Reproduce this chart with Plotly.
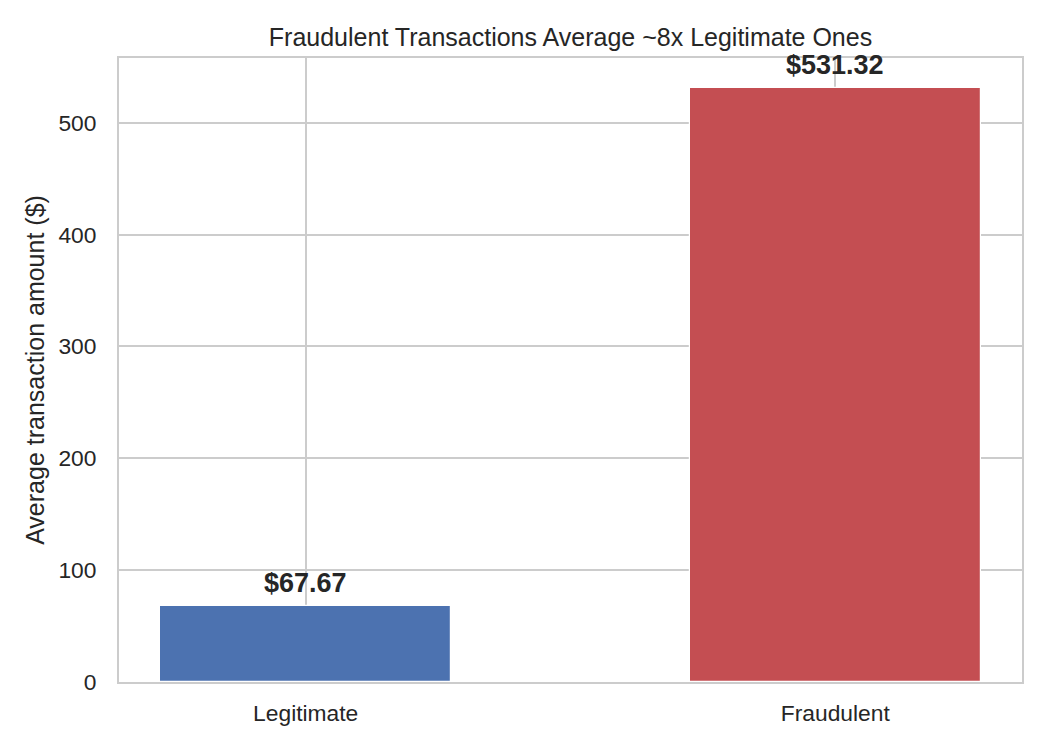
import plotly.graph_objects as go

categories = ["Legitimate", "Fraudulent"]
avg_amounts = [67.67, 531.32]
bar_colors = ["#4C72B0", "#C44E52"]
bar_labels = ["$67.67", "$531.32"]
y_ticks = [0, 100, 200, 300, 400, 500]

title_text = "Fraudulent Transactions Average ~8x Legitimate Ones"
y_title = "Average transaction amount ($)"

TXT = "#262626"
GRID = "#cccccc"
FONT = "Liberation Sans, Arial, sans-serif"

fig = go.Figure()
fig.add_trace(go.Bar(
    x=[0, 1], y=avg_amounts, width=0.55,
    marker=dict(color=bar_colors, line=dict(color="white", width=1.2)),
    hoverinfo="skip", showlegend=False,
))

for i, (v, lab) in enumerate(zip(avg_amounts, bar_labels)):
    fig.add_annotation(x=i, y=v, text="<b>" + lab + "</b>", showarrow=False,
                       xref="x", yref="y", yanchor="bottom", yshift=6,
                       font=dict(size=27, color=TXT, family=FONT))

fig.update_layout(
    width=1050, height=750,
    margin=dict(l=111, r=36, t=50, b=76),
    paper_bgcolor="white", plot_bgcolor="white",
    font=dict(family=FONT, color=TXT),
    title=dict(text=title_text, x=0.5, xref="paper", xanchor="center",
               y=1 - 29 / 750, yref="container", yanchor="middle",
               font=dict(size=25, color=TXT, family=FONT)),
    bargap=0,
)
fig.update_xaxes(
    range=[-0.3525, 1.3525], tickmode="array", tickvals=[0, 1], ticktext=categories,
    showgrid=True, gridcolor=GRID, gridwidth=1.6, zeroline=False,
    showline=True, linecolor=GRID, linewidth=2, mirror=True,
    ticks="outside", ticklen=0, ticklabelstandoff=10,
    tickfont=dict(size=22.8, color=TXT, family=FONT), layer="below traces",
)
fig.update_yaxes(
    range=[0, 531.32 * 1.05], tickmode="array", tickvals=y_ticks,
    showgrid=True, gridcolor=GRID, gridwidth=1.6, zeroline=False,
    showline=True, linecolor=GRID, linewidth=2, mirror=True,
    ticks="outside", ticklen=0, ticklabelstandoff=16,
    tickfont=dict(size=22.8, color=TXT, family=FONT),
    title=dict(text=y_title, font=dict(size=25, color=TXT, family=FONT), standoff=7),
)

fig.write_html("out.html")
